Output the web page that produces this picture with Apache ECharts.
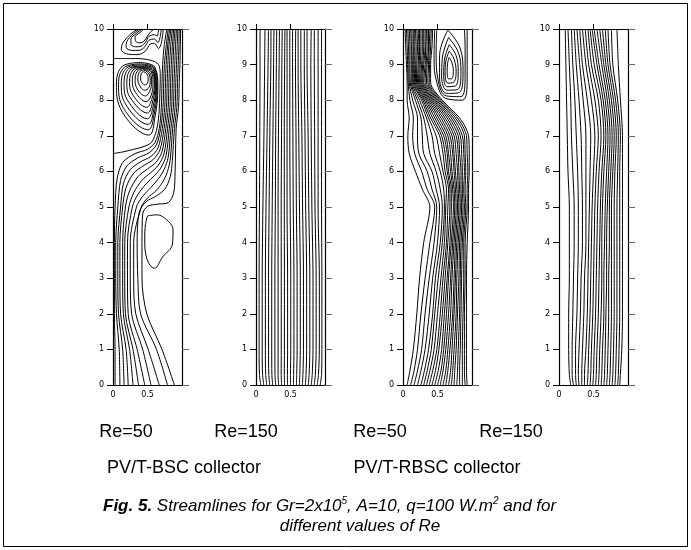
<!DOCTYPE html>
<html><head><meta charset="utf-8">
<script src="https://cdn.jsdelivr.net/npm/echarts@6/dist/echarts.min.js"></script>
<style>html,body{margin:0;padding:0;background:#fff}#c{width:691px;height:550px}</style>
</head><body><div id="c"></div>
<script>
// ---------------- DATA ----------------
const yTickLabels = [0,1,2,3,4,5,6,7,8,9,10];
const xTickLabels = [0, 0.5];
const panelTitles = ['Re=50', 'Re=150', 'Re=50', 'Re=150'];
const groupTitles = ['PV/T-BSC collector', 'PV/T-RBSC collector'];

// Panel 1: PV/T-BSC, Re=50 — through-flow streamlines [x,y]
const bsc50Through = [
  [[0,6.5],[0.15,6.55],[0.3,6.62],[0.45,6.7],[0.56,6.82],[0.63,7.15],[0.665,7.6],[0.68,8.2],[0.685,8.7],[0.66,9.0],[0.55,9.12],[0.35,9.17],[0.0,9.17]],
  [[0.03,0],[0.03,1],[0.02,2],[0.02,3],[0.02,4],[0.03,5],[0.06,5.8],[0.14,6.25],[0.32,6.5],[0.5,6.62],[0.61,6.82],[0.67,7.2],[0.7,7.8],[0.71,8.5],[0.72,9.0],[0.74,9.5],[0.78,10]],
  [[0.10,0],[0.09,1],[0.05,2],[0.04,3],[0.04,4],[0.07,5],[0.11,5.75],[0.2,6.15],[0.36,6.38],[0.52,6.52],[0.63,6.75],[0.69,7.2],[0.725,7.8],[0.735,8.5],[0.745,9.0],[0.77,9.5],[0.8,10]],
  [[0.16,0],[0.14,1],[0.08,2],[0.07,3],[0.07,4],[0.11,5],[0.15,5.65],[0.25,6.05],[0.4,6.27],[0.55,6.42],[0.65,6.65],[0.715,7.2],[0.75,7.8],[0.76,8.5],[0.77,9.0],[0.79,9.5],[0.82,10]],
  [[0.22,0],[0.19,1],[0.11,2],[0.10,3],[0.10,4],[0.14,5],[0.19,5.55],[0.3,5.95],[0.45,6.17],[0.58,6.33],[0.68,6.6],[0.74,7.2],[0.775,7.8],[0.785,8.5],[0.795,9.0],[0.81,9.5],[0.84,10]],
  [[0.29,0],[0.24,1],[0.15,2],[0.14,3],[0.14,4],[0.18,5],[0.24,5.45],[0.36,5.85],[0.5,6.07],[0.62,6.25],[0.71,6.55],[0.765,7.2],[0.8,7.8],[0.81,8.5],[0.82,9.0],[0.835,9.5],[0.86,10]],
  [[0.37,0],[0.29,1],[0.18,2],[0.17,3],[0.17,4],[0.23,5],[0.3,5.4],[0.42,5.75],[0.55,5.97],[0.66,6.18],[0.74,6.5],[0.79,7.2],[0.825,7.8],[0.835,8.5],[0.845,9.0],[0.86,9.5],[0.88,10]],
  [[0.46,0],[0.35,1],[0.22,2],[0.21,3],[0.21,4],[0.28,5],[0.36,5.35],[0.48,5.65],[0.6,5.88],[0.7,6.12],[0.77,6.45],[0.815,7.2],[0.85,7.8],[0.86,8.5],[0.87,9.0],[0.88,9.5],[0.9,10]],
  [[0.55,0],[0.43,1],[0.27,2],[0.25,3],[0.25,4],[0.34,5],[0.43,5.3],[0.55,5.55],[0.66,5.8],[0.74,6.05],[0.8,6.4],[0.84,7.2],[0.875,7.8],[0.885,8.5],[0.895,9.0],[0.905,9.5],[0.92,10]],
  [[0.67,0],[0.51,1],[0.33,2],[0.30,3],[0.30,4],[0.41,5],[0.5,5.25],[0.62,5.45],[0.72,5.7],[0.79,6.0],[0.83,6.35],[0.865,7.2],[0.9,7.8],[0.91,8.5],[0.92,9.0],[0.93,9.5],[0.94,10]],
  [[0.79,0],[0.63,1],[0.40,2],[0.36,3],[0.35,4],[0.38,4.85],[0.48,5.15],[0.62,5.3],[0.75,5.5],[0.83,5.85],[0.86,6.3],[0.89,7.2],[0.925,7.8],[0.935,8.5],[0.945,9.0],[0.955,9.5],[0.96,10]],
  [[0.89,0],[0.71,1],[0.49,2],[0.42,3],[0.42,4],[0.43,4.8],[0.5,5.02],[0.65,5.08],[0.8,5.12],[0.88,5.4],[0.9,6.0],[0.915,7.2],[0.95,7.8],[0.96,8.5],[0.97,9.0],[0.975,9.5],[0.98,10]]
];
// Panel 1: main recirculation cell (closed loops)
const bsc50Vortex = [
  [[0.40,9.06],[0.14,8.96],[0.05,8.45],[0.10,7.80],[0.52,7.02],[0.61,7.55],[0.65,8.35],[0.61,8.92],[0.40,9.06]],
  [[0.40,9.02],[0.17,8.93],[0.08,8.45],[0.13,7.86],[0.51,7.17],[0.60,7.64],[0.64,8.37],[0.60,8.90],[0.40,9.02]],
  [[0.41,8.99],[0.20,8.91],[0.12,8.46],[0.17,7.93],[0.51,7.32],[0.59,7.73],[0.63,8.39],[0.59,8.88],[0.41,8.99]],
  [[0.41,8.96],[0.23,8.89],[0.16,8.47],[0.21,8.00],[0.50,7.48],[0.58,7.82],[0.62,8.41],[0.58,8.86],[0.41,8.96]],
  [[0.42,8.94],[0.26,8.87],[0.20,8.48],[0.25,8.07],[0.50,7.64],[0.57,7.92],[0.61,8.43],[0.57,8.84],[0.42,8.94]],
  [[0.42,8.92],[0.29,8.85],[0.24,8.50],[0.29,8.14],[0.49,7.80],[0.56,8.02],[0.60,8.46],[0.56,8.82],[0.42,8.92]],
  [[0.43,8.90],[0.32,8.83],[0.28,8.52],[0.33,8.21],[0.48,7.96],[0.55,8.12],[0.58,8.49],[0.55,8.80],[0.43,8.90]],
  [[0.43,8.88],[0.35,8.81],[0.32,8.55],[0.36,8.29],[0.47,8.12],[0.53,8.24],[0.56,8.52],[0.53,8.78],[0.43,8.88]],
  [[0.44,8.85],[0.38,8.79],[0.36,8.58],[0.40,8.37],[0.46,8.28],[0.52,8.36],[0.54,8.56],[0.51,8.77],[0.44,8.85]],
  [[0.445,8.8],[0.41,8.76],[0.40,8.6],[0.43,8.46],[0.46,8.43],[0.50,8.48],[0.51,8.6],[0.49,8.74],[0.445,8.8]]
];
// Panel 1: lobes near the outlet
const bsc50TopLobes = [
  [[0.36,10],[0.25,9.85],[0.14,9.6],[0.12,9.42],[0.2,9.3],[0.36,9.28],[0.47,9.38],[0.54,9.58],[0.6,9.6],[0.66,9.45],[0.7,9.6],[0.73,10]],
  [[0.39,10],[0.29,9.86],[0.2,9.65],[0.19,9.48],[0.27,9.4],[0.38,9.4],[0.46,9.5],[0.52,9.68],[0.6,9.72],[0.65,9.62],[0.68,9.75],[0.7,10]],
  [[0.42,10],[0.34,9.88],[0.26,9.72],[0.26,9.56],[0.33,9.5],[0.41,9.52],[0.47,9.63],[0.52,9.79],[0.6,9.84],[0.64,9.8],[0.66,10]],
  [[0.45,10],[0.39,9.9],[0.32,9.78],[0.33,9.65],[0.39,9.61],[0.45,9.66],[0.5,9.8],[0.55,9.93],[0.6,10]]
];
// Panel 1: lower secondary cell
const bsc50LowerCell = [
  [[0.5,4.75],[0.63,4.78],[0.8,4.6],[0.87,4.35],[0.86,3.95],[0.72,3.6],[0.6,3.28],[0.49,3.55],[0.46,4.1],[0.47,4.5],[0.5,4.75]]
];

// Panel 2: PV/T-BSC, Re=150 — x of each streamline at each y level
const bsc150Levels = [0, 0.3, 1, 3, 5, 7, 9, 10];
const bsc150Rows = [
  [0.07,0.113,0.156,0.199,0.242,0.285,0.328,0.371,0.414,0.457,0.50,0.543,0.586,0.629,0.672,0.715,0.758,0.801,0.844,0.887,0.93],
  [0.05,0.095,0.14,0.185,0.23,0.275,0.32,0.365,0.41,0.455,0.50,0.545,0.59,0.635,0.68,0.725,0.77,0.815,0.86,0.905,0.95],
  [0.045,0.09,0.136,0.182,0.228,0.274,0.32,0.366,0.412,0.458,0.504,0.55,0.596,0.642,0.688,0.734,0.78,0.826,0.872,0.918,0.955],
  [0.045,0.09,0.136,0.182,0.228,0.274,0.32,0.366,0.412,0.458,0.504,0.55,0.596,0.642,0.688,0.734,0.78,0.826,0.872,0.918,0.955],
  [0.05,0.10,0.145,0.19,0.235,0.28,0.32,0.365,0.41,0.45,0.495,0.54,0.585,0.63,0.675,0.72,0.765,0.81,0.855,0.90,0.95],
  [0.055,0.115,0.16,0.20,0.245,0.285,0.325,0.37,0.41,0.45,0.49,0.535,0.58,0.62,0.665,0.71,0.755,0.80,0.85,0.90,0.95],
  [0.058,0.125,0.175,0.215,0.255,0.295,0.335,0.375,0.415,0.45,0.49,0.53,0.572,0.61,0.65,0.70,0.74,0.795,0.845,0.90,0.95],
  [0.058,0.13,0.18,0.217,0.26,0.30,0.34,0.38,0.42,0.45,0.49,0.53,0.575,0.61,0.65,0.70,0.74,0.80,0.845,0.90,0.95]
];

// Panel 3: PV/T-RBSC, Re=50 — x of each through streamline at each y level
const rbsc50Levels = [0, 0.4, 1, 2, 3, 4, 5, 5.5, 6, 6.5, 7, 7.5, 8, 8.5, 9, 9.5, 10];
const rbsc50Rows = [
  [0.06,0.11,0.16,0.21,0.26,0.30,0.34,0.38,0.42,0.46,0.50,0.54,0.58,0.62,0.66,0.70,0.74,0.78,0.82,0.86,0.90,0.93],
  [0.10,0.16,0.21,0.26,0.31,0.35,0.39,0.43,0.47,0.51,0.55,0.58,0.62,0.65,0.69,0.72,0.75,0.79,0.82,0.86,0.89,0.92],
  [0.15,0.21,0.27,0.32,0.37,0.41,0.45,0.49,0.52,0.56,0.59,0.62,0.65,0.68,0.71,0.74,0.77,0.80,0.83,0.86,0.89,0.92],
  [0.20,0.26,0.32,0.38,0.43,0.46,0.50,0.54,0.57,0.60,0.63,0.66,0.69,0.72,0.74,0.77,0.79,0.82,0.84,0.87,0.89,0.92],
  [0.24,0.32,0.38,0.43,0.47,0.51,0.55,0.58,0.61,0.64,0.66,0.69,0.71,0.74,0.76,0.78,0.81,0.83,0.85,0.88,0.90,0.92],
  [0.30,0.39,0.45,0.50,0.54,0.57,0.60,0.63,0.65,0.68,0.70,0.72,0.74,0.76,0.78,0.80,0.82,0.84,0.86,0.88,0.90,0.93],
  [0.39,0.46,0.49,0.53,0.57,0.60,0.62,0.65,0.68,0.70,0.73,0.75,0.77,0.79,0.81,0.83,0.85,0.87,0.89,0.91,0.93,0.95],
  [0.28,0.35,0.42,0.48,0.54,0.59,0.63,0.66,0.68,0.70,0.72,0.74,0.76,0.78,0.80,0.82,0.84,0.86,0.88,0.90,0.93,0.95],
  [0.18,0.27,0.35,0.42,0.48,0.54,0.58,0.61,0.64,0.66,0.69,0.71,0.74,0.76,0.79,0.81,0.84,0.86,0.89,0.91,0.94,0.96],
  [0.09,0.17,0.23,0.30,0.39,0.46,0.53,0.58,0.61,0.64,0.66,0.69,0.72,0.74,0.77,0.80,0.82,0.85,0.88,0.90,0.93,0.96],
  [0.07,0.14,0.21,0.28,0.35,0.42,0.48,0.53,0.56,0.59,0.62,0.65,0.68,0.71,0.74,0.77,0.80,0.83,0.86,0.89,0.92,0.95],
  [0.09,0.15,0.21,0.26,0.30,0.34,0.37,0.40,0.43,0.46,0.49,0.52,0.55,0.58,0.61,0.64,0.67,0.70,0.73,0.76,0.79,0.82],
  [0.06,0.10,0.14,0.18,0.21,0.24,0.27,0.29,0.31,0.33,0.35,0.37,0.39,0.41,0.43,0.45,0.47,0.49,0.51,0.53,0.55,0.57],
  [0.06,0.075,0.09,0.105,0.12,0.135,0.15,0.165,0.18,0.195,0.21,0.225,0.24,0.255,0.27,0.285,0.30,0.32,0.34,0.36,0.38,0.40],
  [0.05,0.067,0.084,0.10,0.12,0.135,0.15,0.17,0.185,0.20,0.22,0.235,0.25,0.27,0.285,0.30,0.32,0.335,0.35,0.37,0.385,0.40],
  [0.04,0.06,0.08,0.10,0.12,0.13,0.15,0.17,0.19,0.21,0.23,0.24,0.26,0.28,0.30,0.32,0.33,0.35,0.37,0.38,0.40,0.42],
  [0.03,0.05,0.07,0.09,0.11,0.13,0.15,0.17,0.18,0.20,0.22,0.24,0.26,0.28,0.30,0.32,0.34,0.35,0.37,0.39,0.41,0.43]
];
// Panel 3: recirculation cell near the outlet
const rbsc50Vortex = [
  [[0.67,9.2],[0.71,9.05],[0.73,8.8],[0.7,8.6],[0.66,8.6],[0.64,8.8],[0.645,9.02],[0.67,9.2]],
  [[0.67,9.38],[0.74,9.15],[0.77,8.8],[0.73,8.5],[0.65,8.48],[0.61,8.75],[0.62,9.08],[0.67,9.38]],
  [[0.67,9.56],[0.77,9.25],[0.8,8.8],[0.76,8.4],[0.64,8.38],[0.59,8.7],[0.6,9.12],[0.67,9.56]],
  [[0.66,9.76],[0.8,9.35],[0.84,8.8],[0.79,8.3],[0.64,8.28],[0.56,8.65],[0.57,9.18],[0.66,9.76]],
  [[0.65,9.97],[0.83,9.45],[0.87,8.8],[0.82,8.22],[0.64,8.19],[0.53,8.6],[0.53,9.25],[0.65,9.97]],
  [[0.49,10],[0.48,9.3],[0.51,8.55],[0.63,8.12],[0.84,8.1],[0.9,8.7],[0.9,9.5],[0.89,10]],
  [[0.46,10],[0.45,9.2],[0.49,8.5],[0.62,8.05],[0.86,8.0],[0.93,8.6],[0.93,9.4],[0.93,10]]
];

// Panel 4: PV/T-RBSC, Re=150
const rbsc150Levels = [0, 0.3, 1, 2, 3, 4, 5, 6, 7, 8, 9, 10];
const rbsc150Rows = [
  [0.17,0.21,0.25,0.29,0.33,0.37,0.41,0.45,0.49,0.53,0.57,0.61,0.65,0.69,0.73,0.77,0.81,0.85,0.88],
  [0.15,0.19,0.24,0.28,0.33,0.37,0.42,0.46,0.50,0.54,0.58,0.62,0.66,0.70,0.74,0.78,0.82,0.86,0.89],
  [0.14,0.19,0.24,0.29,0.34,0.39,0.43,0.47,0.51,0.55,0.59,0.63,0.67,0.71,0.75,0.79,0.83,0.87,0.91],
  [0.14,0.20,0.26,0.31,0.36,0.41,0.45,0.49,0.53,0.57,0.61,0.65,0.68,0.72,0.76,0.80,0.84,0.88,0.92],
  [0.15,0.21,0.27,0.32,0.37,0.42,0.46,0.50,0.54,0.58,0.62,0.65,0.69,0.72,0.76,0.80,0.84,0.88,0.92],
  [0.15,0.22,0.28,0.34,0.39,0.43,0.47,0.51,0.55,0.59,0.62,0.66,0.69,0.73,0.76,0.80,0.84,0.88,0.92],
  [0.15,0.22,0.28,0.34,0.39,0.44,0.48,0.52,0.56,0.60,0.63,0.67,0.70,0.73,0.76,0.80,0.84,0.88,0.92],
  [0.13,0.20,0.27,0.33,0.39,0.45,0.50,0.54,0.58,0.62,0.65,0.69,0.72,0.75,0.78,0.81,0.85,0.88,0.92],
  [0.12,0.18,0.25,0.32,0.39,0.46,0.52,0.57,0.61,0.65,0.68,0.71,0.74,0.77,0.80,0.83,0.86,0.89,0.92],
  [0.11,0.17,0.23,0.29,0.35,0.41,0.47,0.52,0.57,0.61,0.64,0.67,0.70,0.73,0.76,0.79,0.82,0.85,0.89],
  [0.10,0.15,0.20,0.25,0.30,0.34,0.39,0.43,0.47,0.51,0.55,0.58,0.62,0.65,0.68,0.71,0.74,0.78,0.86],
  [0.09,0.13,0.18,0.22,0.26,0.30,0.34,0.38,0.42,0.45,0.48,0.51,0.55,0.59,0.63,0.67,0.71,0.76,0.84]
];

// ---------------- BUILD ----------------
function rowsToLines(levels, rows) {
  const n = rows[0].length, out = [];
  for (let j = 0; j < n; j++) out.push(levels.map((y, i) => [rows[i][j], y]));
  return out;
}
const panelLines = [
  { open: bsc50Through.concat(bsc50TopLobes), closed: bsc50Vortex.concat(bsc50LowerCell) },
  { open: rowsToLines(bsc150Levels, bsc150Rows), closed: [] },
  { open: rowsToLines(rbsc50Levels, rbsc50Rows), closed: rbsc50Vortex },
  { open: rowsToLines(rbsc150Levels, rbsc150Rows), closed: [] }
];
const gridLefts = [113, 256, 403, 559];
const GT = 29, GW = 69, GH = 356;

const grids = [], xAxes = [], yAxes = [], series = [];
const axisColor = '#000';
const lblFont = { fontSize: 8, fontFamily: 'DejaVu Sans', color: '#000' };
gridLefts.forEach((L, g) => {
  grids.push({ left: L, top: GT, width: GW, height: GH, containLabel: false });
  xAxes.push({
    gridIndex: g, type: 'value', min: 0, max: 1, position: 'bottom',
    axisLine: { show: true, onZero: false, lineStyle: { color: axisColor, width: 1.2 } },
    axisTick: { show: false },
    axisLabel: Object.assign({ show: true, margin: 6, customValues: xTickLabels }, lblFont),
    splitLine: { show: false }
  });
  xAxes.push({
    gridIndex: g, type: 'value', min: 0, max: 1, position: 'top',
    axisLine: { show: true, onZero: false, lineStyle: { color: axisColor, width: 1.2 } },
    axisTick: { show: true, inside: false, length: 5, customValues: xTickLabels, lineStyle: { color: '#000', width: 1 } },
    axisLabel: { show: false },
    splitLine: { show: false }
  });
  yAxes.push({
    gridIndex: g, type: 'value', min: 0, max: 10, interval: 1, position: 'left',
    axisLine: { show: true, onZero: false, lineStyle: { color: axisColor, width: 1.2 } },
    axisTick: { show: true, inside: false, length: 6, lineStyle: { color: '#000', width: 1 } },
    axisLabel: Object.assign({ show: true, margin: 9 }, lblFont),
    splitLine: { show: false }
  });
  yAxes.push({
    gridIndex: g, type: 'value', min: 0, max: 10, interval: 1, position: 'right',
    axisLine: { show: true, onZero: false, lineStyle: { color: axisColor, width: 1.2 } },
    axisTick: { show: true, inside: false, length: 7, lineStyle: { color: '#666', width: 1 } },
    axisLabel: { show: false },
    splitLine: { show: false }
  });
  const pl = panelLines[g];
  pl.open.forEach(pts => series.push({
    type: 'line', xAxisIndex: g * 2, yAxisIndex: g * 2, data: pts, symbol: 'none',
    smooth: 0.3, silent: true, lineStyle: { color: '#000', width: 1 }
  }));
  pl.closed.forEach(pts => series.push({
    type: 'line', xAxisIndex: g * 2, yAxisIndex: g * 2, data: pts, symbol: 'none',
    smooth: 0.4, silent: true, lineStyle: { color: '#000', width: 1 }
  }));
});

const txtFont = 'Liberation Sans, Arial, sans-serif';
const titleCenters = [126, 246, 380, 511];
const graphic = [
  { type: 'rect', shape: { x: 3.5, y: 3.5, width: 684, height: 543 }, style: { fill: 'none', stroke: '#000', lineWidth: 1 }, silent: true }
];
panelTitles.forEach((t, i) => graphic.push({
  type: 'text', x: titleCenters[i], y: 432,
  style: { text: t, fill: '#000', font: '18px ' + txtFont, textAlign: 'center', textVerticalAlign: 'middle' }
}));
[184, 437].forEach((cx, i) => graphic.push({
  type: 'text', x: cx, y: 468,
  style: { text: groupTitles[i], fill: '#000', font: '18px ' + txtFont, textAlign: 'center', textVerticalAlign: 'middle' }
}));
graphic.push({
  type: 'text', x: 103, y: 496,
  style: {
    text: '{b|Fig. 5.}{i| Streamlines for Gr=2x10}{s|5}{i|, A=10, q=100 W.m}{s|2}{i| and for}',
    fill: '#000',
    rich: {
      b: { fontSize: 17, fontWeight: 'bold', fontStyle: 'italic', fontFamily: txtFont, fill: '#000', lineHeight: 20 },
      i: { fontSize: 17, fontStyle: 'italic', fontFamily: txtFont, fill: '#000', lineHeight: 20 },
      s: { fontSize: 10, fontStyle: 'italic', fontFamily: txtFont, fill: '#000', verticalAlign: 'top', lineHeight: 11 }
    }
  }
});
graphic.push({
  type: 'text', x: 360, y: 526,
  style: { text: 'different values of Re', fill: '#000', font: 'italic 17px ' + txtFont, textAlign: 'center', textVerticalAlign: 'middle' }
});

const chart = echarts.init(document.getElementById('c'));
chart.setOption({
  animation: false,
  backgroundColor: '#fff',
  grid: grids, xAxis: xAxes, yAxis: yAxes, series: series,
  graphic: graphic
});
</script>
</body></html>
